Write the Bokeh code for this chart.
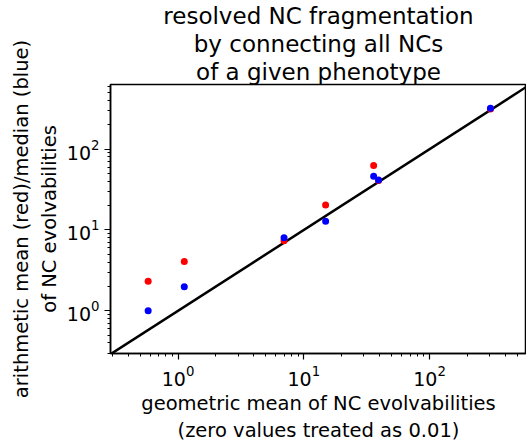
from bokeh.plotting import figure
from bokeh.models import Range1d, LogTicker, Title
from bokeh.embed import file_html
from bokeh.resources import INLINE

# data
geo_mean = [0.578, 1.12, 6.96, 14.9, 35.9, 39.3, 305.0]
arith_mean = [2.32, 4.07, 7.35, 20.3, 62.9, 41.0, 313.0]
median = [1.0, 1.98, 8.0, 12.8, 46.3, 41.5, 321.0]

x_lim = [0.29, 590.0]
y_lim = [0.296, 630.0]
diag = [0.29, 630.0]

title_lines = ["resolved NC fragmentation", "by connecting all NCs", "of a given phenotype"]

FONT = "DejaVu Sans"

p = figure(width=526, height=445, x_axis_type="log", y_axis_type="log",
           x_range=Range1d(*x_lim), y_range=Range1d(*y_lim),
           output_backend="svg", toolbar_location=None,
           min_border_left=110, min_border_right=0, min_border_bottom=86, min_border_top=0,
           frame_width=416, frame_height=269)

for line in reversed(title_lines):
    t = Title(text=line, align="center", text_font=FONT, text_font_size="23px",
              text_font_style="normal", text_color="black", standoff=0, offset=0)
    p.add_layout(t, "above")

p.line(diag, diag, line_color="black", line_width=2.5)
p.scatter(geo_mean, arith_mean, size=7, color="red", line_color=None)
p.scatter(geo_mean, median, size=7, color="blue", line_color=None)

p.grid.visible = False
p.outline_line_color = "black"
p.outline_line_width = 1.5

for ax in (p.xaxis, p.yaxis):
    ax.ticker = LogTicker(num_minor_ticks=10)
    ax.axis_line_color = "black"
    ax.axis_line_width = 1.5
    ax.major_tick_in = 0
    ax.major_tick_out = 6
    ax.minor_tick_in = 0
    ax.minor_tick_out = 3
    ax.major_tick_line_width = 1.2
    ax.minor_tick_line_width = 1
    ax.major_label_text_font = FONT
    ax.major_label_text_font_size = "19px"
    ax.major_label_text_color = "black"
    ax.axis_label_text_font = FONT
    ax.axis_label_text_font_size = "19.5px"
    ax.axis_label_text_font_style = "normal"
    ax.axis_label_text_color = "black"
    ax.axis_label_standoff = 3

p.xaxis.axis_label = "geometric mean of NC evolvabilities\n(zero values treated as 0.01)"
p.yaxis.axis_label = "arithmetic mean (red)/median (blue)\nof NC evolvabilities"

open("out.html", "w").write(file_html(p, INLINE))
